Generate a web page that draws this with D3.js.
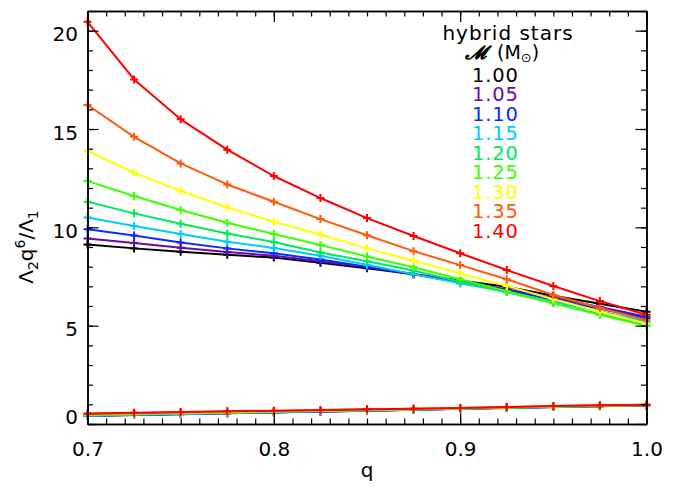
<!DOCTYPE html>
<html><head><meta charset="utf-8">
<script src="https://cdn.jsdelivr.net/npm/d3@7/dist/d3.min.js"></script>
<style>
body{margin:0;background:#fff;}
svg{display:block;}
text{font-family:"DejaVu Sans",sans-serif;fill:#000;}
</style></head>
<body><svg id="c" width="678" height="491"></svg>
<script>
const qValues = [0.7,0.725,0.75,0.775,0.8,0.825,0.85,0.875,0.9,0.925,0.95,0.975,1.0];
const massLabels = ["1.00","1.05","1.10","1.15","1.20","1.25","1.30","1.35","1.40"];
const massColors = ["#000000","#6a0aa8","#0a2cff","#00ccff","#00e85c","#3cff00","#ffff00","#ff5a0a","#ff0000"];
const xTicks = [0.7,0.8,0.9,1.0];
const xTickLabels = ["0.7","0.8","0.9","1.0"];
const yTicks = [0,5,10,15,20];
const yTickLabels = ["0","5","10","15","20"];

// upper branch: Lambda2 q^6 / Lambda1
const upper100 = [9.13,8.93,8.76,8.60,8.46,8.20,7.92,7.62,7.30,6.98,6.52,6.12,5.71];
const upper105 = [9.43,9.20,8.96,8.75,8.55,8.28,7.97,7.63,7.25,6.85,6.42,5.95,5.45];
const upper110 = [9.90,9.58,9.23,8.93,8.68,8.36,8.00,7.62,7.20,6.80,6.32,5.86,5.38];
const upper115 = [10.50,10.07,9.66,9.27,8.95,8.55,8.10,7.62,7.15,6.72,6.22,5.75,5.20];
const upper120 = [11.30,10.71,10.18,9.69,9.25,8.72,8.28,7.80,7.23,6.70,6.15,5.58,5.02];
const upper125 = [12.35,11.59,10.88,10.23,9.66,9.10,8.52,7.97,7.36,6.75,6.14,5.55,4.98];
const upper130 = [13.88,12.78,11.85,11.02,10.28,9.62,8.93,8.30,7.66,7.02,6.34,5.72,5.10];
const upper135 = [16.22,14.60,13.25,12.18,11.30,10.42,9.60,8.79,8.08,7.36,6.56,5.90,5.28];
const upper140 = [20.45,17.52,15.49,13.95,12.61,11.49,10.47,9.56,8.68,7.83,7.02,6.25,5.55];
// lower branch
const lower100 = [0.43,0.47,0.51,0.56,0.60,0.64,0.68,0.72,0.77,0.81,0.86,0.90,0.95];
const lower105 = [0.42,0.46,0.51,0.55,0.60,0.64,0.68,0.73,0.77,0.82,0.86,0.91,0.95];
const lower110 = [0.41,0.46,0.50,0.55,0.59,0.64,0.68,0.73,0.77,0.82,0.87,0.91,0.96];
const lower115 = [0.42,0.47,0.51,0.56,0.60,0.65,0.69,0.73,0.78,0.82,0.87,0.92,0.96];
const lower120 = [0.44,0.49,0.53,0.57,0.62,0.66,0.70,0.74,0.78,0.83,0.88,0.92,0.97];
const lower125 = [0.46,0.51,0.55,0.59,0.63,0.67,0.71,0.75,0.79,0.84,0.89,0.93,0.97];
const lower130 = [0.49,0.53,0.57,0.61,0.65,0.69,0.73,0.76,0.80,0.85,0.90,0.94,0.98];
const lower135 = [0.51,0.55,0.59,0.63,0.66,0.70,0.74,0.77,0.81,0.85,0.91,0.94,0.98];
const lower140 = [0.54,0.57,0.61,0.65,0.68,0.71,0.75,0.78,0.81,0.86,0.92,0.95,0.98];

const upperSeries = [upper100,upper105,upper110,upper115,upper120,upper125,upper130,upper135,upper140];
const lowerSeries = [lower100,lower105,lower110,lower115,lower120,lower125,lower130,lower135,lower140];

const svg = d3.select("#c");
const L = 87.5, R = 646.5, T = 11, B = 424;
const x = d3.scaleLinear().domain([0.7,1.0]).range([L,R]);
const y = d3.scaleLinear().domain([0,21]).range([B,T]);

const line = d3.line().x((d,i)=>x(qValues[i])).y(d=>y(d));
const plot = svg.append("g");
function drawSeries(vals, color){
  plot.append("path").datum(vals).attr("d",line).attr("fill","none")
    .attr("stroke",color).attr("stroke-width",2).attr("stroke-linejoin","round");
  const m = plot.append("g");
  vals.forEach((v,i)=>{
    const cx = x(qValues[i]), cy = y(v);
    m.append("path").attr("d",`M${cx-4},${cy}H${cx+4}M${cx},${cy-4}V${cy+4}`)
      .attr("stroke",color).attr("stroke-width",2);
  });
}
upperSeries.forEach((s,k)=>drawSeries(s,massColors[k]));
lowerSeries.forEach((s,k)=>drawSeries(s,massColors[k]));

// axes (ticks inward)
const minorX = d3.range(70,101).map(d=>d/100);
const minorY = d3.range(0,22);
function ax(axis, tr){ const g = svg.append("g").attr("transform",tr).call(axis);
  g.select(".domain").attr("stroke","#000").attr("stroke-width",1.5);
  g.selectAll(".tick line").attr("stroke","#000").attr("stroke-width",1.2);
  g.selectAll("text").style("font-family","DejaVu Sans").style("font-size","20px").attr("fill","#000");
  return g; }
ax(d3.axisBottom(x).tickValues(minorX).tickSize(-5.5).tickSizeOuter(0).tickFormat(""), `translate(0,${B})`);
const xb = ax(d3.axisBottom(x).tickValues(xTicks).tickSize(-11).tickSizeOuter(0).tickPadding(15).tickFormat((d,i)=>xTickLabels[i]), `translate(0,${B})`);
xb.selectAll("text").attr("y",18).attr("dy","0.71em");
ax(d3.axisTop(x).tickValues(minorX).tickSize(-5.5).tickSizeOuter(0).tickFormat(""), `translate(0,${T})`);
ax(d3.axisTop(x).tickValues(xTicks).tickSize(-11).tickSizeOuter(0).tickFormat(""), `translate(0,${T})`);
ax(d3.axisLeft(y).tickValues(minorY).tickSize(-5.5).tickSizeOuter(0).tickFormat(""), `translate(${L},0)`);
const yl = ax(d3.axisLeft(y).tickValues(yTicks).tickSize(-11).tickSizeOuter(0).tickPadding(10).tickFormat((d,i)=>yTickLabels[i]), `translate(${L},0)`);
yl.selectAll("text").attr("x",-9.5).attr("dy",null).attr("y",d=> Math.min(10, B - 0.8 - y(d)));
ax(d3.axisRight(y).tickValues(minorY).tickSize(-5.5).tickSizeOuter(0).tickFormat(""), `translate(${R},0)`);
ax(d3.axisRight(y).tickValues(yTicks).tickSize(-11).tickSizeOuter(0).tickFormat(""), `translate(${R},0)`);

// axis titles
svg.append("text").attr("x",367).attr("y",477).attr("text-anchor","middle").style("font-size","20px").text("q");
const yt = svg.append("text").attr("transform","translate(33,247) rotate(-90)").attr("text-anchor","middle").style("font-size","20px");
yt.append("tspan").text("Λ");
yt.append("tspan").attr("dy",5).style("font-size","14px").text("2");
yt.append("tspan").attr("dy",-5).text("q");
yt.append("tspan").attr("dy",-8).style("font-size","14px").text("6");
yt.append("tspan").attr("dy",8).text("/Λ");
yt.append("tspan").attr("dy",5).style("font-size","14px").text("1");

// legend
svg.append("text").attr("x",508).attr("y",40).attr("text-anchor","middle")
  .style("font-size","20px").style("letter-spacing","1px").text("hybrid stars");
const lt = svg.append("text").attr("x",465).attr("y",59).style("font-size","19px");
lt.append("tspan").style("font-family","DejaVu Serif").style("font-style","italic").style("font-weight","bold").text("𝓜");
lt.append("tspan").attr("x",497).text("(M");
lt.append("tspan").attr("dy",3).style("font-size","13px").text("⊙");
lt.append("tspan").attr("dy",-3).text(")");
massLabels.forEach((m,k)=>{
  svg.append("text").attr("x",472).attr("y",81.7 + k*19.5).style("font-size","19.5px")
    .style("letter-spacing","0.8px").style("fill",massColors[k]).text(m);
});
</script></body></html>
